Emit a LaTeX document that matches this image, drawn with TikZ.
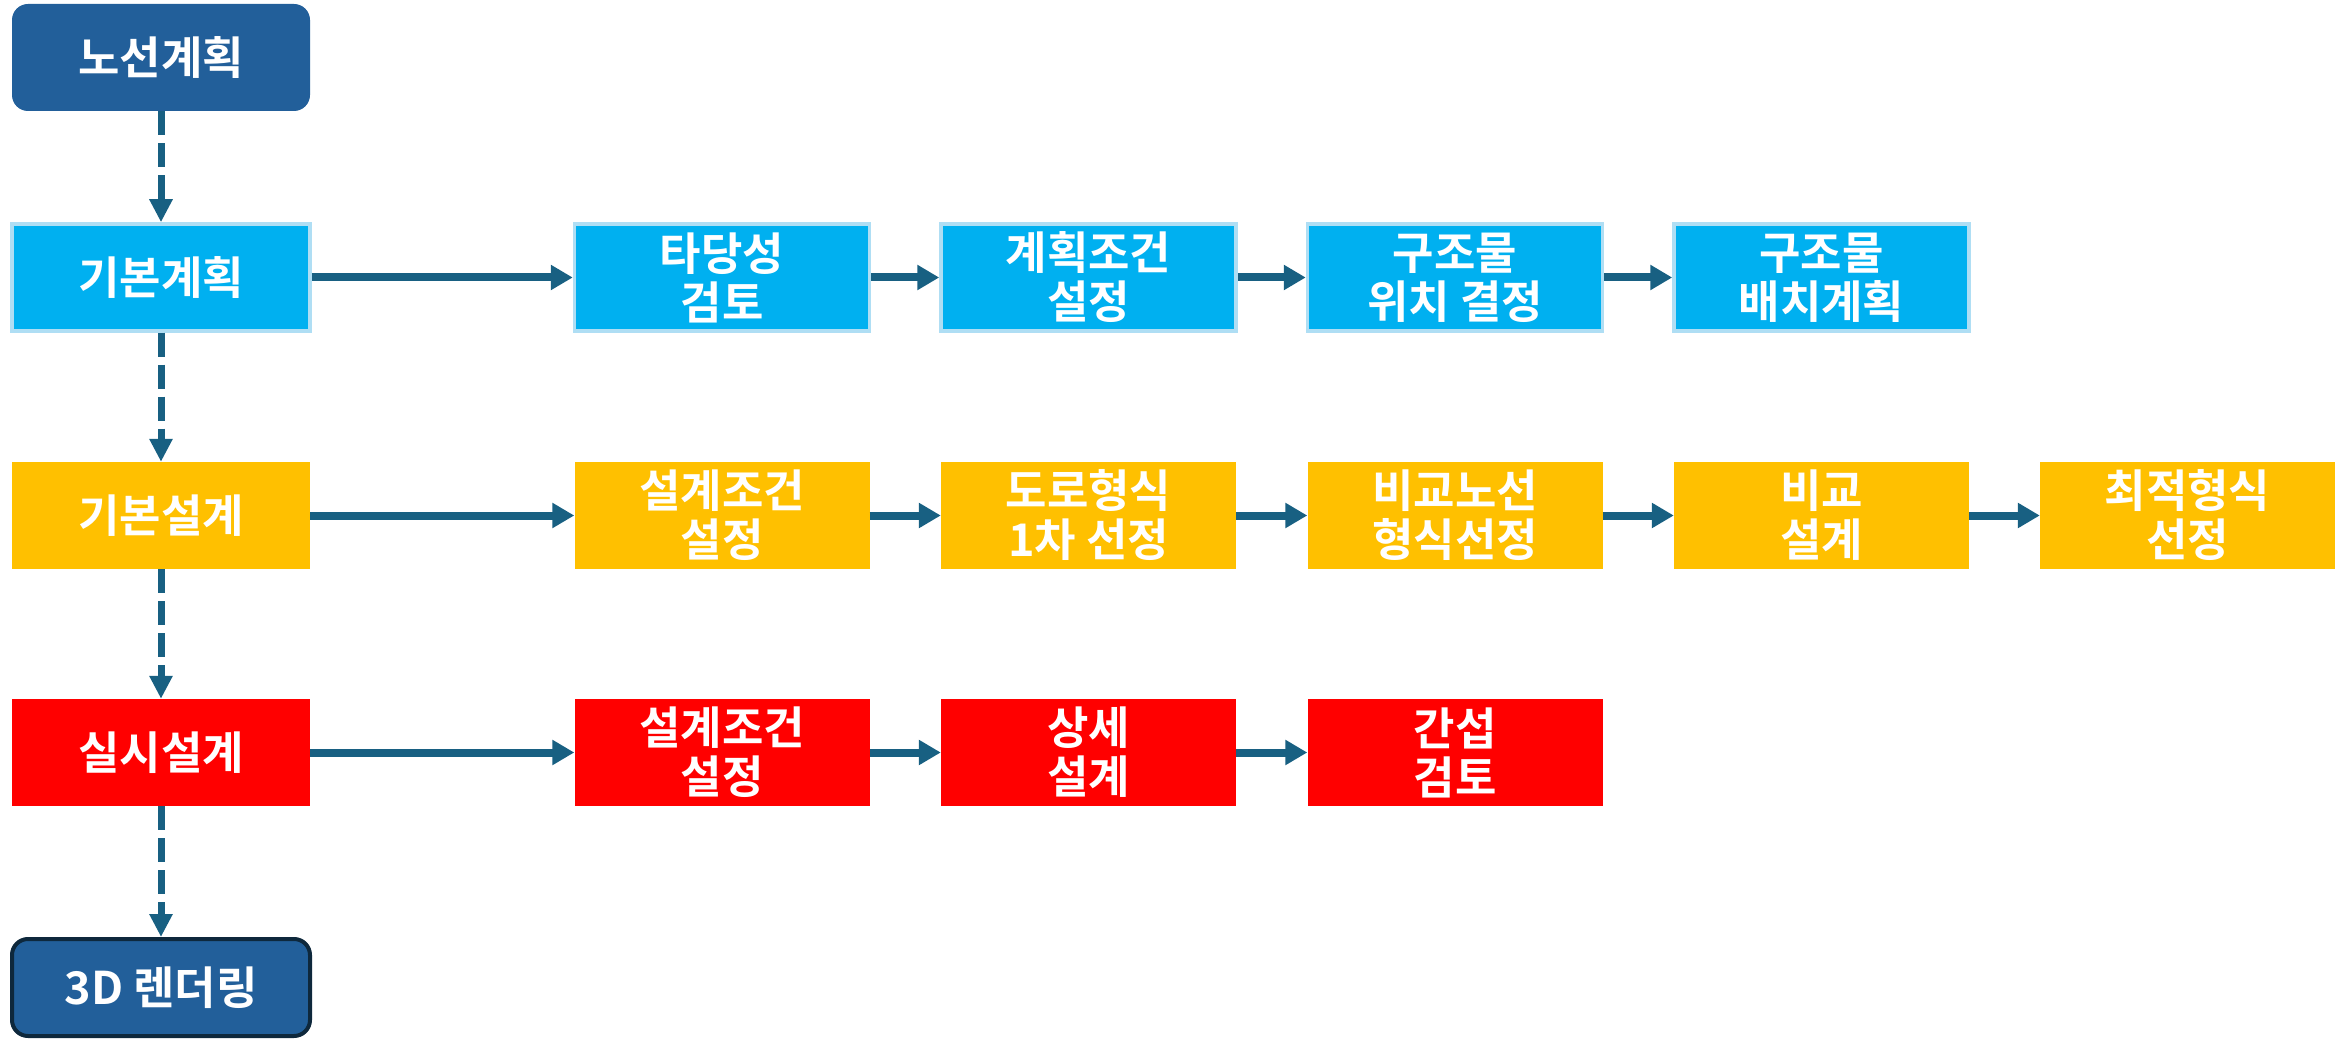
\documentclass[tikz,border=0pt]{standalone}
\usepackage{fontspec}
\setmainfont{Noto Sans CJK KR}[BoldFont={* Bold}]
\usetikzlibrary{arrows.meta}
\definecolor{navy}{RGB}{34,95,154}
\definecolor{navyedge}{RGB}{14,40,60}
\definecolor{cyanbox}{RGB}{0,176,240}
\definecolor{cyanedge}{RGB}{175,222,244}
\definecolor{yellowbox}{RGB}{255,192,0}
\definecolor{redbox}{RGB}{255,0,0}
\definecolor{arrowc}{RGB}{24,96,130}
\tikzset{
  lbl/.style={text=white, font=\fontsize{45}{49}\selectfont\bfseries, align=center, inner sep=0pt},
  mainbox/.style={lbl, minimum width=298pt, minimum height=107pt},
  subbox/.style={lbl, minimum width=295pt, minimum height=107pt},
  navybox/.style={mainbox, fill=navy, rounded corners=16pt},
  cyanb/.style={fill=cyanbox, draw=cyanedge, line width=3.5pt},
  yellowb/.style={fill=yellowbox},
  redb/.style={fill=redbox},
  harrow/.style={draw=arrowc, line width=8pt, -{Triangle[length=22pt,width=24pt]}},
  varrow/.style={draw=arrowc, line width=7pt, dash pattern=on 24pt off 8pt, -{Triangle[length=23pt,width=22pt]}},
}
\begin{document}
\begin{tikzpicture}[x=1pt,y=-1pt]
\useasboundingbox (0,0) rectangle (2346,1040);
% left column
\node[navybox] (nodeA) at (161,57.5) {노선계획};
\node[mainbox,cyanb] (r1c1) at (161,277.5) {기본계획};
\node[mainbox,yellowb] (r2c1) at (161,515.5) {기본설계};
\node[mainbox,redb] (r3c1) at (161,752.5) {실시설계};
\node[navybox, draw=navyedge, line width=4pt, minimum height=97pt] (nodeZ) at (161,987.5) {3D 렌더링};
% row 1
\node[subbox,cyanb] (r1c2) at (722,277.5) {타당성\\검토};
\node[subbox,cyanb] (r1c3) at (1088.5,277.5) {계획조건\\설정};
\node[subbox,cyanb] (r1c4) at (1455,277.5) {구조물\\위치 결정};
\node[subbox,cyanb] (r1c5) at (1821.5,277.5) {구조물\\배치계획};
% row 2
\node[subbox,yellowb] (r2c2) at (722,515.5) {설계조건\\설정};
\node[subbox,yellowb] (r2c3) at (1088.5,515.5) {도로형식\\1차 선정};
\node[subbox,yellowb] (r2c4) at (1455,515.5) {비교노선\\형식선정};
\node[subbox,yellowb] (r2c5) at (1821.5,515.5) {비교\\설계};
\node[subbox,yellowb] (r2c6) at (2187.5,515.5) {최적형식\\선정};
% row 3
\node[subbox,redb] (r3c2) at (722,752.5) {설계조건\\설정};
\node[subbox,redb] (r3c3) at (1088.5,752.5) {상세\\설계};
\node[subbox,redb] (r3c4) at (1455,752.5) {간섭\\검토};
% vertical dashed arrows
\draw[varrow] (nodeA.south) -- (r1c1.north);
\draw[varrow] (r1c1.south) -- (r2c1.north);
\draw[varrow] (r2c1.south) -- (r3c1.north);
\draw[varrow] (r3c1.south) -- (nodeZ.north);
% horizontal arrows
\draw[harrow] (r1c1.east) -- (r1c2.west);
\draw[harrow] (r1c2.east) -- (r1c3.west);
\draw[harrow] (r1c3.east) -- (r1c4.west);
\draw[harrow] (r1c4.east) -- (r1c5.west);
\draw[harrow] (r2c1.east) -- (r2c2.west);
\draw[harrow] (r2c2.east) -- (r2c3.west);
\draw[harrow] (r2c3.east) -- (r2c4.west);
\draw[harrow] (r2c4.east) -- (r2c5.west);
\draw[harrow] (r2c5.east) -- (r2c6.west);
\draw[harrow] (r3c1.east) -- (r3c2.west);
\draw[harrow] (r3c2.east) -- (r3c3.west);
\draw[harrow] (r3c3.east) -- (r3c4.west);
\end{tikzpicture}
\end{document}
